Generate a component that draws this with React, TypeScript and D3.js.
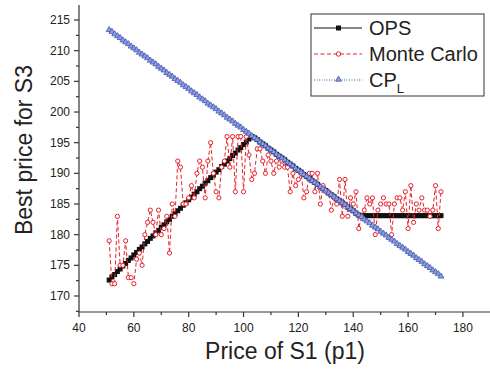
import React from "react";
import * as d3 from "d3";

const xStart = 51;
const monteCarlo = [
  179, 172, 172, 183, 175, 175, 179, 173, 173, 172,
  176, 177, 175, 180, 182, 184, 182, 180, 184, 180,
  181, 183, 177, 185, 183, 192, 191, 185, 185, 186,
  188, 186, 190, 192, 191, 186, 192, 195, 190, 187,
  186, 191, 192, 196, 191, 196, 187, 196, 196, 187,
  196, 193, 189, 190, 194, 194, 192, 190, 193, 192,
  190, 192, 191, 192, 191, 191, 187, 190, 188, 189,
  190, 186, 187, 190, 190, 187, 190, 185, 188, 187,
  187, 184, 186, 185, 189, 183, 189, 183, 186, 185,
  187, 181, 183, 184, 186, 185, 186, 180, 184, 185,
  186, 185, 185, 180, 185, 186, 186, 184, 187, 181,
  188, 182, 185, 184, 186, 184, 184, 183, 184, 188,
  181, 187,
];
const cpL = [
  213.4, 213.1, 212.7, 212.4, 212.1, 211.7, 211.4, 211.1, 210.7, 210.4,
  210.1, 209.7, 209.4, 209.1, 208.8, 208.4, 208.1, 207.8, 207.4, 207.1,
  206.8, 206.4, 206.1, 205.8, 205.4, 205.1, 204.8, 204.4, 204.1, 203.8,
  203.4, 203.1, 202.8, 202.4, 202.1, 201.8, 201.4, 201.1, 200.8, 200.5,
  200.1, 199.8, 199.5, 199.1, 198.8, 198.5, 198.1, 197.8, 197.5, 197.1,
  196.8, 196.5, 196.1, 195.8, 195.5, 195.1, 194.8, 194.5, 194.1, 193.8,
  193.5, 193.1, 192.8, 192.5, 192.2, 191.8, 191.5, 191.2, 190.8, 190.5,
  190.2, 189.8, 189.5, 189.2, 188.8, 188.5, 188.2, 187.8, 187.5, 187.2,
  186.8, 186.5, 186.2, 185.8, 185.5, 185.2, 184.9, 184.5, 184.2, 183.9,
  183.5, 183.2, 182.9, 182.5, 182.2, 181.9, 181.5, 181.2, 180.9, 180.5,
  180.2, 179.9, 179.5, 179.2, 178.9, 178.5, 178.2, 177.9, 177.6, 177.2,
  176.9, 176.6, 176.2, 175.9, 175.6, 175.2, 174.9, 174.6, 174.2, 173.9,
  173.6, 173.2,
];
const ops = [
  172.6, 173.1, 173.5, 174.0, 174.4, 174.9, 175.3, 175.8, 176.2, 176.7,
  177.1, 177.6, 178.0, 178.5, 178.9, 179.4, 179.8, 180.3, 180.7, 181.2,
  181.6, 182.1, 182.5, 183.0, 183.4, 183.9, 184.3, 184.8, 185.2, 185.7,
  186.1, 186.6, 187.0, 187.5, 187.9, 188.4, 188.8, 189.3, 189.7, 190.2,
  190.6, 191.1, 191.5, 192.0, 192.4, 192.9, 193.3, 193.8, 194.2, 194.7,
  195.1, 195.6, 196.0, 195.8, 195.5, 195.1, 194.8, 194.5, 194.1, 193.8,
  193.5, 193.1, 192.8, 192.5, 192.2, 191.8, 191.5, 191.2, 190.8, 190.5,
  190.2, 189.8, 189.5, 189.2, 188.8, 188.5, 188.2, 187.8, 187.5, 187.2,
  186.8, 186.5, 186.2, 185.8, 185.5, 185.2, 184.9, 184.5, 184.2, 183.9,
  183.5, 183.2, 183.1, 183.1, 183.1, 183.1, 183.1, 183.1, 183.1, 183.1,
  183.1, 183.1, 183.1, 183.1, 183.1, 183.1, 183.1, 183.1, 183.1, 183.1,
  183.1, 183.1, 183.1, 183.1, 183.1, 183.1, 183.1, 183.1, 183.1, 183.1,
  183.1, 183.1,
];
const xTicks = [40, 60, 80, 100, 120, 140, 160, 180];
const yTicks = [170, 175, 180, 185, 190, 195, 200, 205, 210, 215];
const legendLabels = ["OPS", "Monte Carlo", "CP"];

const FONT = "Arial, 'Liberation Sans', Helvetica, sans-serif";
const BLUE = "#4256b4";
const BLUE_FILL = "#8c9fdc";
const RED = "#e8202a";

export default function App() {
  const x = d3.scaleLinear().domain([40, 189.5]).range([79, 489]);
  const y = d3.scaleLinear().domain([167.39, 217.45]).range([312, 5]);

  const pts = (arr: number[]) => arr.map((v, i) => [x(xStart + i), y(v)] as [number, number]);
  const line = d3.line();
  const opsPts = pts(ops);
  const mcPts = pts(monteCarlo);
  const cpPts = pts(cpL);
  const tri = d3.symbol().type(d3.symbolTriangle).size(15)()!;

  const xMinor = d3.range(50, 190, 20);
  const yMinor = d3.range(167.5, 217.5, 5);

  return (
    <svg width={490} height={372} style={{ position: "absolute", left: 0, top: 0, background: "#fff" }} fontFamily={FONT}>
      <rect width={490} height={372} fill="#fff" />
      {/* axes */}
      <g stroke="#333" strokeWidth={1.2}>
        <line x1={79} y1={312} x2={490} y2={312} />
        <line x1={79} y1={5} x2={79} y2={312} />
        {xTicks.map((t) => (
          <line key={"xt" + t} x1={x(t)} x2={x(t)} y1={312} y2={317} />
        ))}
        {xMinor.map((t) => (
          <line key={"xm" + t} x1={x(t)} x2={x(t)} y1={312} y2={315} />
        ))}
        {yTicks.map((t) => (
          <line key={"yt" + t} x1={74} x2={79} y1={y(t)} y2={y(t)} />
        ))}
        {yMinor.map((t) => (
          <line key={"ym" + t} x1={76} x2={79} y1={y(t)} y2={y(t)} />
        ))}
      </g>
      <g fontSize={12} fill="#222">
        {xTicks.map((t) => (
          <text key={"xl" + t} x={x(t)} y={332} textAnchor="middle">{t}</text>
        ))}
        {yTicks.map((t) => (
          <text key={"yl" + t} x={70} y={y(t) + 4} textAnchor="end">{t}</text>
        ))}
      </g>
      <text x={285} y={359} fontSize={23} textAnchor="middle" fill="#222">Price of S1 (p1)</text>
      <text transform="translate(32,150) rotate(-90)" fontSize={23} textAnchor="middle" fill="#222">Best price for S3</text>

      {/* OPS */}
      <path d={line(opsPts)!} fill="none" stroke="#111" strokeWidth={1.5} />
      {opsPts.map(([px, py], i) => (
        <rect key={"o" + i} x={px - 2.5} y={py - 2.5} width={5} height={5} fill="#111" />
      ))}
      {/* Monte Carlo */}
      <path d={line(mcPts)!} fill="none" stroke={RED} strokeWidth={1} strokeDasharray="4,2.5" />
      {mcPts.map(([px, py], i) => (
        <circle key={"m" + i} cx={px} cy={py} r={2.1} fill="#fff" stroke={RED} strokeWidth={1} />
      ))}
      {/* CP_L */}
      <path d={line(cpPts)!} fill="none" stroke={BLUE} strokeWidth={1} strokeDasharray="1,1.5" />
      {cpPts.map(([px, py], i) => (
        <path key={"c" + i} d={tri} transform={`translate(${px},${py})`} fill={BLUE_FILL} stroke={BLUE} strokeWidth={0.8} />
      ))}

      {/* legend */}
      <rect x={311} y={14} width={173} height={82} fill="#fff" stroke="#333" strokeWidth={1} />
      <g>
        <line x1={314} x2={362} y1={28} y2={28} stroke="#111" strokeWidth={1.2} />
        <rect x={336} y={25.5} width={5} height={5} fill="#111" />
        <text x={369} y={35} fontSize={20} fill="#222">{legendLabels[0]}</text>

        <line x1={314} x2={362} y1={54} y2={54} stroke={RED} strokeWidth={1} strokeDasharray="4,2.5" />
        <circle cx={338.5} cy={54} r={2.2} fill="#fff" stroke={RED} strokeWidth={1} />
        <text x={369} y={61} fontSize={20} fill="#222">{legendLabels[1]}</text>

        <line x1={314} x2={362} y1={80} y2={80} stroke={BLUE} strokeWidth={1} strokeDasharray="1,1.5" />
        <path d={tri} transform="translate(338.5,79.5)" fill={BLUE_FILL} stroke={BLUE} strokeWidth={0.8} />
        <text x={369} y={87} fontSize={20} fill="#222">
          {legendLabels[2]}
          <tspan fontSize={13} dy={6}>L</tspan>
        </text>
      </g>
    </svg>
  );
}
